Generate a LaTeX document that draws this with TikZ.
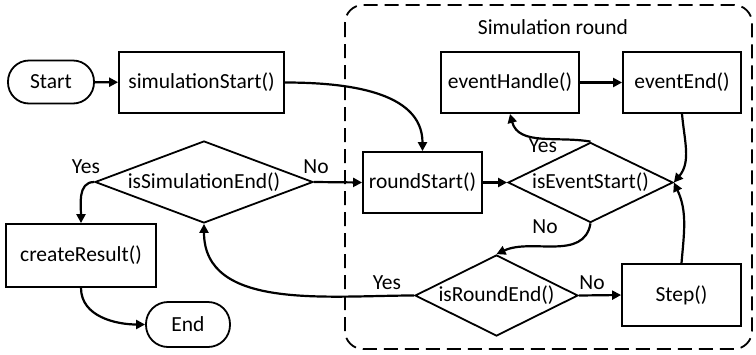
\documentclass[tikz,border=0pt]{standalone}
\usepackage{fontspec}
\setmainfont{Carlito}
\usetikzlibrary{shapes.geometric,arrows.meta}
\begin{document}
\begin{tikzpicture}[x=1pt,y=-1pt,
  font=\fontsize{21.5}{24}\selectfont,
  box/.style={draw, line width=1.8pt, inner sep=0pt, minimum width=#1, minimum height=61pt},
  term/.style={draw, line width=1.8pt, rounded corners=21pt, inner sep=0pt, minimum width=#1, minimum height=43pt},
  dia/.style={draw, diamond, line width=1.8pt, inner sep=0pt},
  arr/.style={line width=2.2pt, -{Triangle[length=9pt,width=9pt]}},
  lbl/.style={inner sep=0pt}]
\useasboundingbox (0,0) rectangle (756,354);
% container
\draw[line width=1.8pt, dash pattern=on 14pt off 7pt, rounded corners=18pt] (345,5) rectangle (752,349);
\node[lbl] (title) at (553,27) {Simulation round};
% nodes
\node[term=86pt] (start) at (51,82) {Start};
\node[box=165pt] (simstart) at (201.5,82.5) {simulationStart()};
\node[dia, minimum width=218pt, minimum height=82pt, label=center:{isSimulationEnd()}] (simend) at (204,182) {};
\node[box=150pt, minimum height=63pt] (result) at (81,255.5) {createResult()};
\node[term=84pt, minimum height=45pt, rounded corners=22pt] (end) at (188,324.5) {End};
\node[box=119pt] (rstart) at (422.5,182.5) {roundStart()};
\node[dia, minimum width=165pt, minimum height=80pt, label=center:{isEventStart()}] (evstart) at (590.5,182.5) {};
\node[dia, minimum width=163pt, minimum height=81pt, label=center:{isRoundEnd()}] (rend) at (496.5,295.5) {};
\node[box=138pt] (evhandle) at (510,82.5) {eventHandle()};
\node[box=118pt] (evend) at (682,82.5) {eventEnd()};
\node[box=119pt, minimum height=62pt] (step) at (681.5,295) {Step()};
% labels
\node[lbl] (l1) at (316,167) {No};
\node[lbl] (l2) at (86,167) {Yes};
\node[lbl] (l3) at (543,146) {Yes};
\node[lbl] (l4) at (545,227) {No};
\node[lbl] (l5) at (592,283) {No};
\node[lbl] (l6) at (387,283) {Yes};
% connectors
\draw[arr] (start) -- (simstart);
\draw[arr] (simstart.east) to[out=0,in=90] (rstart.north);
\draw[arr] (simend.east) -- (rstart.west);
\draw[arr] (simend.west) to[out=180,in=90] (result.north);
\draw[arr] (result.south) to[out=-90,in=180] (end.west);
\draw[arr] (rstart.east) -- (evstart.west);
\draw[arr] (evstart.north) to[out=170,in=-75] (evhandle.south);
\draw[arr] (evhandle) -- (evend);
\draw[arr] (evend.south) to[out=-85,in=50] (evstart.east);
\draw[arr] (step.north) to[out=85,in=-65] (evstart.east);
\draw[arr] (evstart.south) to[out=-100,in=25] (rend.north);
\draw[arr] (rend.east) -- (step.west);
\draw[arr] (rend.west) to[out=180,in=-90] (simend.south);
\end{tikzpicture}
\end{document}
